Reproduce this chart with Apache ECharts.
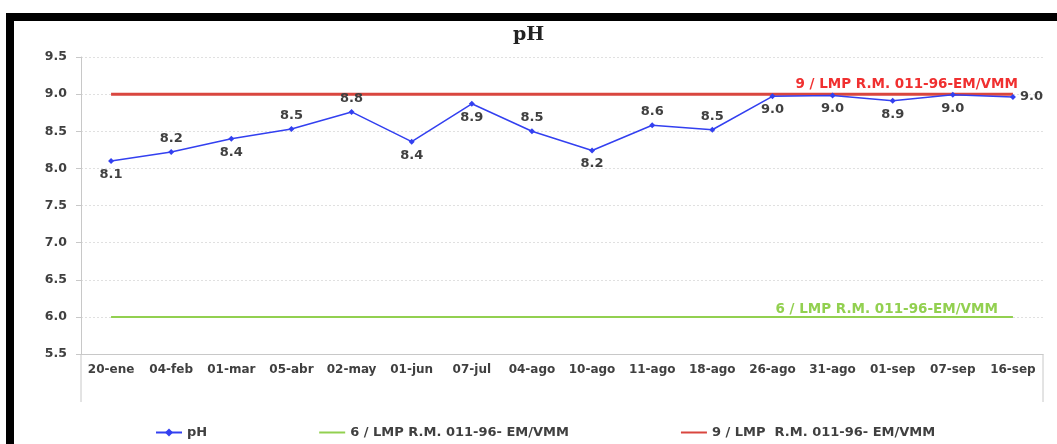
<!DOCTYPE html>
<html>
<head>
<meta charset="utf-8">
<script src="https://cdn.jsdelivr.net/npm/echarts@6/dist/echarts.min.js"></script>
<style>
  html, body { margin: 0; padding: 0; background: #fff; }
  #chart { width: 1057px; height: 444px; }
</style>
</head>
<body>
<div id="chart"></div>
<script>
// fechas de muestreo
const fechas = ["20-ene", "04-feb", "01-mar", "05-abr", "02-may", "01-jun", "07-jul", "04-ago",
  "10-ago", "11-ago", "18-ago", "26-ago", "31-ago", "01-sep", "07-sep", "16-sep"];
// valores de pH medidos
const valoresPH = [8.10, 8.22, 8.40, 8.53, 8.76, 8.36, 8.87, 8.50, 8.24, 8.58, 8.52, 8.97, 8.98, 8.91, 8.99, 8.96];
// limites maximos permisibles
const limiteMin = [6, 6, 6, 6, 6, 6, 6, 6, 6, 6, 6, 6, 6, 6, 6, 6];
const limiteMax = [9, 9, 9, 9, 9, 9, 9, 9, 9, 9, 9, 9, 9, 9, 9, 9];
const ticksY = [5.5, 6.0, 6.5, 7.0, 7.5, 8.0, 8.5, 9.0, 9.5];

// donde va la etiqueta de cada punto (arriba / abajo)
const posEtiqueta = ["bottom", "top", "bottom", "top", "top", "bottom", "bottom", "top",
  "bottom", "top", "top", "bottom", "bottom", "bottom", "bottom", "right"];

const fuente = "DejaVu Sans";
const nombreMin = "6 / LMP R.M. 011-96- EM/VMM";
const nombreMax = "9 / LMP  R.M. 011-96- EM/VMM";
const iconoLinea = "path://M0,0 L26,0 L26,2 L0,2 Z";

let mychart = echarts.init(document.getElementById("chart"));
mychart.setOption({
  animation: false,
  title: {
    text: "pH",
    left: "center",
    top: 21,
    textStyle: { fontFamily: "DejaVu Serif", fontWeight: "bold", fontSize: 19, color: "#222" },
  },
  // marco negro arriba e izquierda
  graphic: [
    { type: "rect", shape: { x: 6, y: 13, width: 1051, height: 8 }, style: { fill: "#000" } },
    { type: "rect", shape: { x: 6, y: 13, width: 8, height: 431 }, style: { fill: "#000" } },
    { type: "line", shape: { x1: 81, y1: 354, x2: 81, y2: 402 }, style: { stroke: "#c8c8c8", lineWidth: 1 } },
    { type: "line", shape: { x1: 1043, y1: 354, x2: 1043, y2: 402 }, style: { stroke: "#c8c8c8", lineWidth: 1 } },
  ],
  legend: {
    left: 150,
    top: 421,
    itemGap: 112,
    itemWidth: 26,
    itemHeight: 10,
    textStyle: { fontFamily: fuente, fontWeight: "bold", fontSize: 13, color: "#404040" },
    data: [
      { name: "pH" },
      { name: nombreMin, icon: iconoLinea },
      { name: nombreMax, icon: iconoLinea },
    ],
  },
  grid: { left: 81, right: 14, top: 57, bottom: 90 },
  xAxis: {
    type: "category",
    data: fechas,
    boundaryGap: true,
    axisLine: { lineStyle: { color: "#c8c8c8" } },
    axisTick: { show: false },
    axisLabel: { fontFamily: fuente, fontWeight: "bold", fontSize: 12, color: "#404040", margin: 10, interval: 0 },
  },
  yAxis: {
    type: "value",
    min: ticksY[0],
    max: ticksY[ticksY.length - 1],
    interval: 0.5,
    axisLine: { show: true, lineStyle: { color: "#c8c8c8" } },
    axisTick: { show: true, length: 5, lineStyle: { color: "#c8c8c8" } },
    axisLabel: {
      fontFamily: fuente, fontWeight: "bold", fontSize: 12.5, color: "#404040", margin: 14,
      formatter: (v) => v.toFixed(1),
    },
    splitLine: { lineStyle: { color: "#e0e0e0", type: [2, 2] } },
  },
  series: [
    {
      name: nombreMin,
      type: "line",
      data: limiteMin,
      symbol: "none",
      lineStyle: { color: "#92d050", width: 2 },
      itemStyle: { color: "#92d050" },
      endLabel: {
        show: true,
        align: "right",
        offset: [-23, -7],
        fontFamily: fuente, fontWeight: "bold", fontSize: 13.5, color: "#92d050",
        formatter: () => "6 / LMP R.M. 011-96-EM/VMM",
      },
    },
    {
      name: nombreMax,
      type: "line",
      data: limiteMax,
      symbol: "none",
      lineStyle: { color: "#d9463f", width: 3 },
      itemStyle: { color: "#d9463f" },
      endLabel: {
        show: true,
        align: "right",
        offset: [-3, -10],
        fontFamily: fuente, fontWeight: "bold", fontSize: 13.5, color: "#f03030",
        formatter: () => "9 / LMP R.M. 011-96-EM/VMM",
      },
    },
    {
      name: "pH",
      type: "line",
      data: valoresPH.map((v, i) => ({
        value: v,
        label: { position: posEtiqueta[i] },
      })),
      symbol: "diamond",
      symbolSize: 6,
      z: 5,
      lineStyle: { color: "#3340f0", width: 1.5 },
      itemStyle: { color: "#3340f0" },
      label: {
        show: true,
        distance: 4,
        fontFamily: fuente, fontWeight: "bold", fontSize: 13, color: "#404040",
        formatter: (p) => p.value.toFixed(1),
      },
    },
  ],
});
window.onresize = function () {
  mychart.resize();
};
</script>
</body>
</html>
